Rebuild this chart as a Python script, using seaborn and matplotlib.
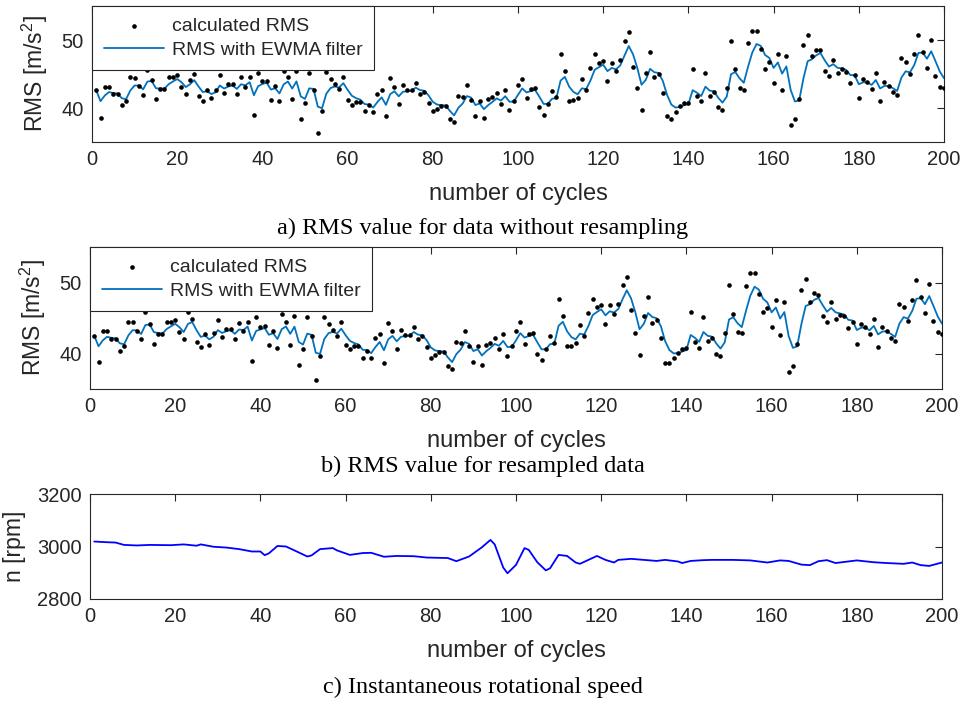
import matplotlib
matplotlib.use('Agg')
import matplotlib.pyplot as plt
import seaborn as sns
import numpy as np
import pandas as pd

# 整体风格
sns.set_theme(style='white')
plt.rcParams['font.family'] = ['Liberation Sans', 'DejaVu Sans']
plt.rcParams['mathtext.default'] = 'regular'

# ---- data ----
cycles = np.arange(1, 201)

rms_raw = [
    42.6, 38.6, 43.1, 43.1, 42.0, 42.0, 40.4, 41.1, 44.5, 44.4,
    43.3, 41.9, 45.6, 44.1, 41.3, 42.8, 42.8, 44.5, 44.5, 44.8,
    43.1, 42.0, 44.1, 45.0, 41.8, 41.1, 42.7, 41.4, 42.7, 44.8,
    42.2, 43.6, 43.5, 42.1, 44.5, 43.1, 44.5, 39.0, 45.2, 44.0,
    44.0, 41.2, 43.2, 41.0, 45.5, 44.5, 41.3, 45.5, 38.4, 40.8,
    45.2, 42.7, 36.3, 39.6, 45.3, 44.2, 43.5, 42.8, 44.6, 41.2,
    40.5, 40.9, 40.9, 39.6, 40.4, 39.4, 42.1, 42.6, 38.8, 44.4,
    43.1, 40.6, 43.4, 42.6, 42.6, 43.7, 42.1, 42.4, 40.8, 39.5,
    39.9, 40.3, 40.3, 38.4, 37.9, 41.7, 41.6, 43.4, 41.2, 38.8,
    41.0, 38.6, 41.3, 41.6, 42.2, 40.6, 42.7, 39.7, 41.0, 43.4,
    44.3, 41.4, 42.8, 42.9, 40.2, 39.0, 40.6, 42.5, 41.6, 47.9,
    45.4, 41.0, 41.2, 41.5, 44.2, 42.6, 45.9, 48.0, 46.6, 46.9,
    44.0, 46.6, 45.4, 47.1, 49.9, 51.2, 46.1, 42.9, 39.7, 45.2,
    48.2, 44.5, 45.0, 42.2, 38.8, 38.4, 39.4, 40.3, 40.8, 40.8,
    45.7, 41.7, 41.0, 45.2, 41.7, 42.3, 40.1, 39.7, 43.0, 49.9,
    45.8, 43.0, 42.7, 49.6, 51.3, 51.3, 48.7, 45.8, 46.7, 43.7,
    47.9, 42.6, 47.7, 37.5, 38.4, 41.3, 49.2, 50.7, 47.6, 48.6,
    48.6, 45.4, 44.7, 47.0, 45.1, 45.7, 45.3, 43.7, 44.8, 41.5,
    44.2, 43.8, 42.8, 45.2, 41.0, 43.8, 43.3, 42.4, 41.9, 47.4,
    46.8, 45.0, 47.9, 50.8, 48.2, 45.9, 50.0, 44.7, 43.1, 42.9,
]

rms_resampled = [
    42.5, 38.8, 43.1, 43.1, 42.0, 42.0, 40.4, 41.1, 44.4, 44.4,
    43.2, 42.0, 45.9, 44.2, 41.4, 42.7, 42.7, 44.4, 44.4, 44.7,
    43.0, 42.0, 45.9, 44.8, 41.6, 40.9, 42.8, 41.2, 42.9, 44.7,
    42.3, 43.5, 43.5, 42.0, 44.3, 43.2, 44.5, 38.9, 45.2, 43.7,
    43.9, 41.2, 43.2, 40.8, 45.5, 44.4, 41.2, 45.3, 38.4, 40.7,
    45.1, 42.4, 36.3, 39.7, 45.2, 44.1, 43.3, 42.5, 44.5, 41.2,
    40.6, 41.0, 41.0, 39.4, 40.4, 39.4, 42.2, 42.7, 38.7, 44.3,
    43.2, 40.6, 43.3, 42.6, 42.6, 43.8, 42.1, 42.4, 40.9, 39.3,
    39.8, 40.2, 40.2, 38.2, 37.8, 41.6, 41.5, 43.2, 41.0, 38.8,
    41.0, 38.4, 41.2, 41.5, 42.2, 40.7, 42.8, 39.6, 41.0, 43.2,
    44.4, 41.3, 42.8, 42.9, 40.0, 39.1, 40.6, 42.4, 41.5, 47.7,
    45.3, 41.1, 41.1, 41.5, 44.0, 42.5, 45.7, 47.7, 46.5, 46.8,
    44.1, 46.8, 45.5, 47.0, 49.7, 50.8, 46.1, 42.9, 39.8, 45.3,
    48.0, 44.3, 44.7, 42.2, 38.6, 38.6, 39.3, 40.1, 40.6, 40.8,
    45.8, 41.6, 40.8, 45.1, 41.7, 42.2, 40.0, 39.6, 42.9, 49.6,
    45.6, 43.0, 42.9, 49.5, 51.3, 51.3, 48.4, 45.8, 46.4, 43.7,
    47.5, 42.6, 47.2, 37.4, 38.3, 41.3, 48.9, 50.5, 47.3, 48.5,
    48.2, 45.3, 44.5, 47.2, 44.9, 45.4, 45.3, 43.6, 44.5, 41.3,
    44.1, 43.7, 42.7, 44.8, 40.9, 43.7, 43.2, 42.2, 41.7, 47.0,
    46.5, 44.6, 47.6, 50.3, 47.9, 45.7, 49.8, 44.6, 43.0, 42.7,
]

speed_cycles = [
    1, 3, 6, 8, 11, 14, 19, 22, 25, 26, 29, 32, 35, 38, 40, 41, 42, 44, 46, 48,
    51, 52, 54, 57, 58, 61, 64, 66, 69, 72, 76, 79, 84, 86, 89, 92, 94, 95, 97, 98,
    100, 102, 103, 105, 107, 108, 110, 112, 114, 115, 119, 121, 123, 124, 127, 133,
    135, 138, 139, 141, 144, 146, 151, 155, 159, 162, 164, 167, 169, 171, 173, 175,
    180, 184, 187, 191, 193, 195, 197, 200,
]
speed_rpm = [
    3019, 3017, 3015, 3006, 3004, 3006, 3005, 3008, 3003, 3008, 2999, 2996, 2990, 2981, 2981, 2967, 2974, 3002, 3000, 2985,
    2962, 2966, 2990, 2994, 2985, 2968, 2975, 2976, 2961, 2964, 2963, 2958, 2956, 2944, 2962, 2997, 3025, 3008, 2920, 2898,
    2930, 2994, 2987, 2940, 2909, 2917, 2968, 2964, 2939, 2934, 2964, 2949, 2939, 2949, 2953, 2945,
    2949, 2943, 2937, 2945, 2948, 2949, 2949, 2947, 2939, 2947, 2945, 2931, 2929, 2944, 2948, 2937,
    2947, 2940, 2937, 2934, 2939, 2929, 2926, 2939,
]

EWMA_ALPHA = 0.4
x_ticks = list(range(0, 201, 20))
rms_ticks = [40, 50]
speed_ticks = [2800, 3000, 3200]

EDGE = '#262626'
W, H = 966, 701


def px_axes(fig, left, right, top, bottom):
    """按像素位置添加坐标轴"""
    return fig.add_axes([left / W, 1 - bottom / H, (right - left) / W, (bottom - top) / H])


def style_axes(ax, ylim, yticks):
    ax.set_xlim(0, 200)
    ax.set_ylim(*ylim)
    ax.set_xticks(x_ticks)
    ax.set_yticks(yticks)
    ax.tick_params(direction='in', top=True, right=True, length=5, width=0.8,
                   color=EDGE, labelcolor=EDGE, labelsize=14.5, pad=6)
    ax.tick_params(axis='x', labeltop=False)
    for sp in ax.spines.values():
        sp.set_visible(True)
        sp.set_color(EDGE)
        sp.set_linewidth(0.8)
    ax.set_xlabel('number of cycles', fontsize=17, color=EDGE, labelpad=10)


def plot_rms_panel(ax, rms):
    df = pd.DataFrame({'cycle': cycles, 'rms': rms})
    df['ewma'] = df['rms'].ewm(alpha=EWMA_ALPHA, adjust=False).mean()
    sns.scatterplot(data=df, x='cycle', y='rms', color='black', s=11, linewidth=0,
                    ax=ax, label='calculated RMS', zorder=3)
    sns.lineplot(data=df, x='cycle', y='ewma', color='#0072BD', linewidth=1.3,
                 ax=ax, label='RMS with EWMA filter', zorder=2)
    style_axes(ax, (35, 55), rms_ticks)
    ax.set_ylabel('RMS [m/s$^2$]', fontsize=16.5, color=EDGE, labelpad=8)
    leg = ax.legend(loc='upper left', fontsize=14, frameon=True, fancybox=False,
                    edgecolor=EDGE, framealpha=1, borderaxespad=0, handlelength=3.1,
                    handletextpad=0.4, borderpad=0.6, labelspacing=0.3, scatterpoints=1)
    leg.get_frame().set_linewidth(0.8)
    leg.set_zorder(5)


fig = plt.figure(figsize=(W / 100, H / 100), dpi=100)
ax1 = px_axes(fig, 92, 944, 6, 142)
ax2 = px_axes(fig, 90, 942, 247, 389)
ax3 = px_axes(fig, 90, 942, 494, 599)

plot_rms_panel(ax1, rms_raw)
plot_rms_panel(ax2, rms_resampled)

sns.lineplot(x=speed_cycles, y=speed_rpm, color='#0000FF', linewidth=1.3, ax=ax3)
style_axes(ax3, (2800, 3200), speed_ticks)
ax3.set_ylabel('n [rpm]', fontsize=16.5, color=EDGE, labelpad=8)

serif = ['Liberation Serif', 'DejaVu Serif']
fig.text(0.5, 1 - 228 / H, 'a) RMS value for data without resampling', family=serif,
         fontsize=17.5, ha='center', va='center', color='black')
fig.text(0.5, 1 - 466 / H, 'b) RMS value for resampled data', family=serif,
         fontsize=17.5, ha='center', va='center', color='black')
fig.text(0.5, 1 - 687 / H, 'c) Instantaneous rotational speed', family=serif,
         fontsize=17.5, ha='center', va='center', color='black')

fig.savefig('out.png', dpi=100, facecolor='white')
